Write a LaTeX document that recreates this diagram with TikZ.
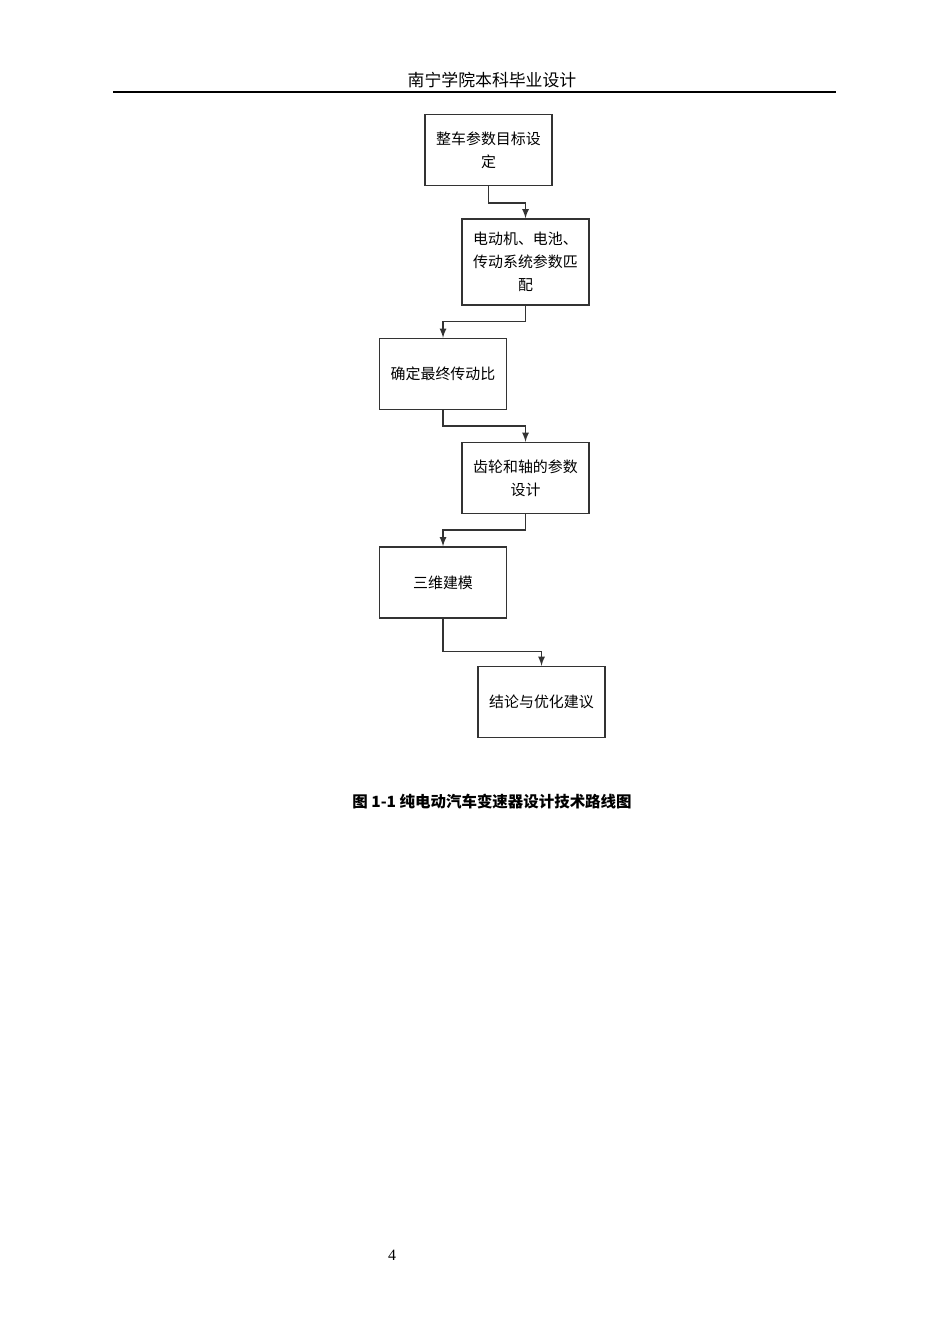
\documentclass[tikz,border=0pt]{standalone}
\usepackage{fontspec}
\setmainfont{Liberation Serif}
\newfontfamily\cjk{Noto Sans CJK SC}
\usetikzlibrary{positioning}
\begin{document}
\begin{tikzpicture}[x=0.02cm,y=-0.02cm,
	stage/.style={draw=black!80, thick, minimum width=2.38cm, minimum height=1.42cm, align=center, text width=2.3cm, font=\cjk\fontsize{8.5}{13}\selectfont},
	link/.style={thick, black!80, -latex}]
	
	\useasboundingbox (0,0) rectangle (950,1344);
	
	% header
	\node (head) at (492,80) {\cjk\fontsize{9.6}{12}\selectfont 南宁学院本科毕业设计};
	\draw[thick] (113,92) -- (836,92);
	
	% stages
	\node[stage] (s1) at (488.5,150) {整车参数目标设\\定};
	\node[stage, minimum height=1.72cm] (s2) at (525.5,262) {电动机、电池、\\传动系统参数匹\\配};
	\node[stage] (s3) at (443,374) {确定最终传动比};
	\node[stage] (s4) at (525.5,478) {齿轮和轴的参数\\设计};
	\node[stage] (s5) at (443,582.5) {三维建模};
	\node[stage] (s6) at (541.5,702) {结论与优化建议};
	
	% links
	\draw[link] (s1.south) -- ++(0,17) -| (s2.north);
	\draw[link] (s2.south) -- ++(0,16) -| (s3.north);
	\draw[link] (s3.south) -- ++(0,16) -| (s4.north);
	\draw[link] (s4.south) -- ++(0,16) -| (s5.north);
	\draw[link] (s5.south) -- ++(0,33) -| (s6.north);
	
	\node (cap) at (492,802) {\cjk\bfseries\fontsize{8.8}{11}\selectfont 图 1-1 纯电动汽车变速器设计技术路线图};
	\node (page) at (392,1255) {\fontsize{9}{11}\selectfont 4};
	
\end{tikzpicture}
\end{document}
